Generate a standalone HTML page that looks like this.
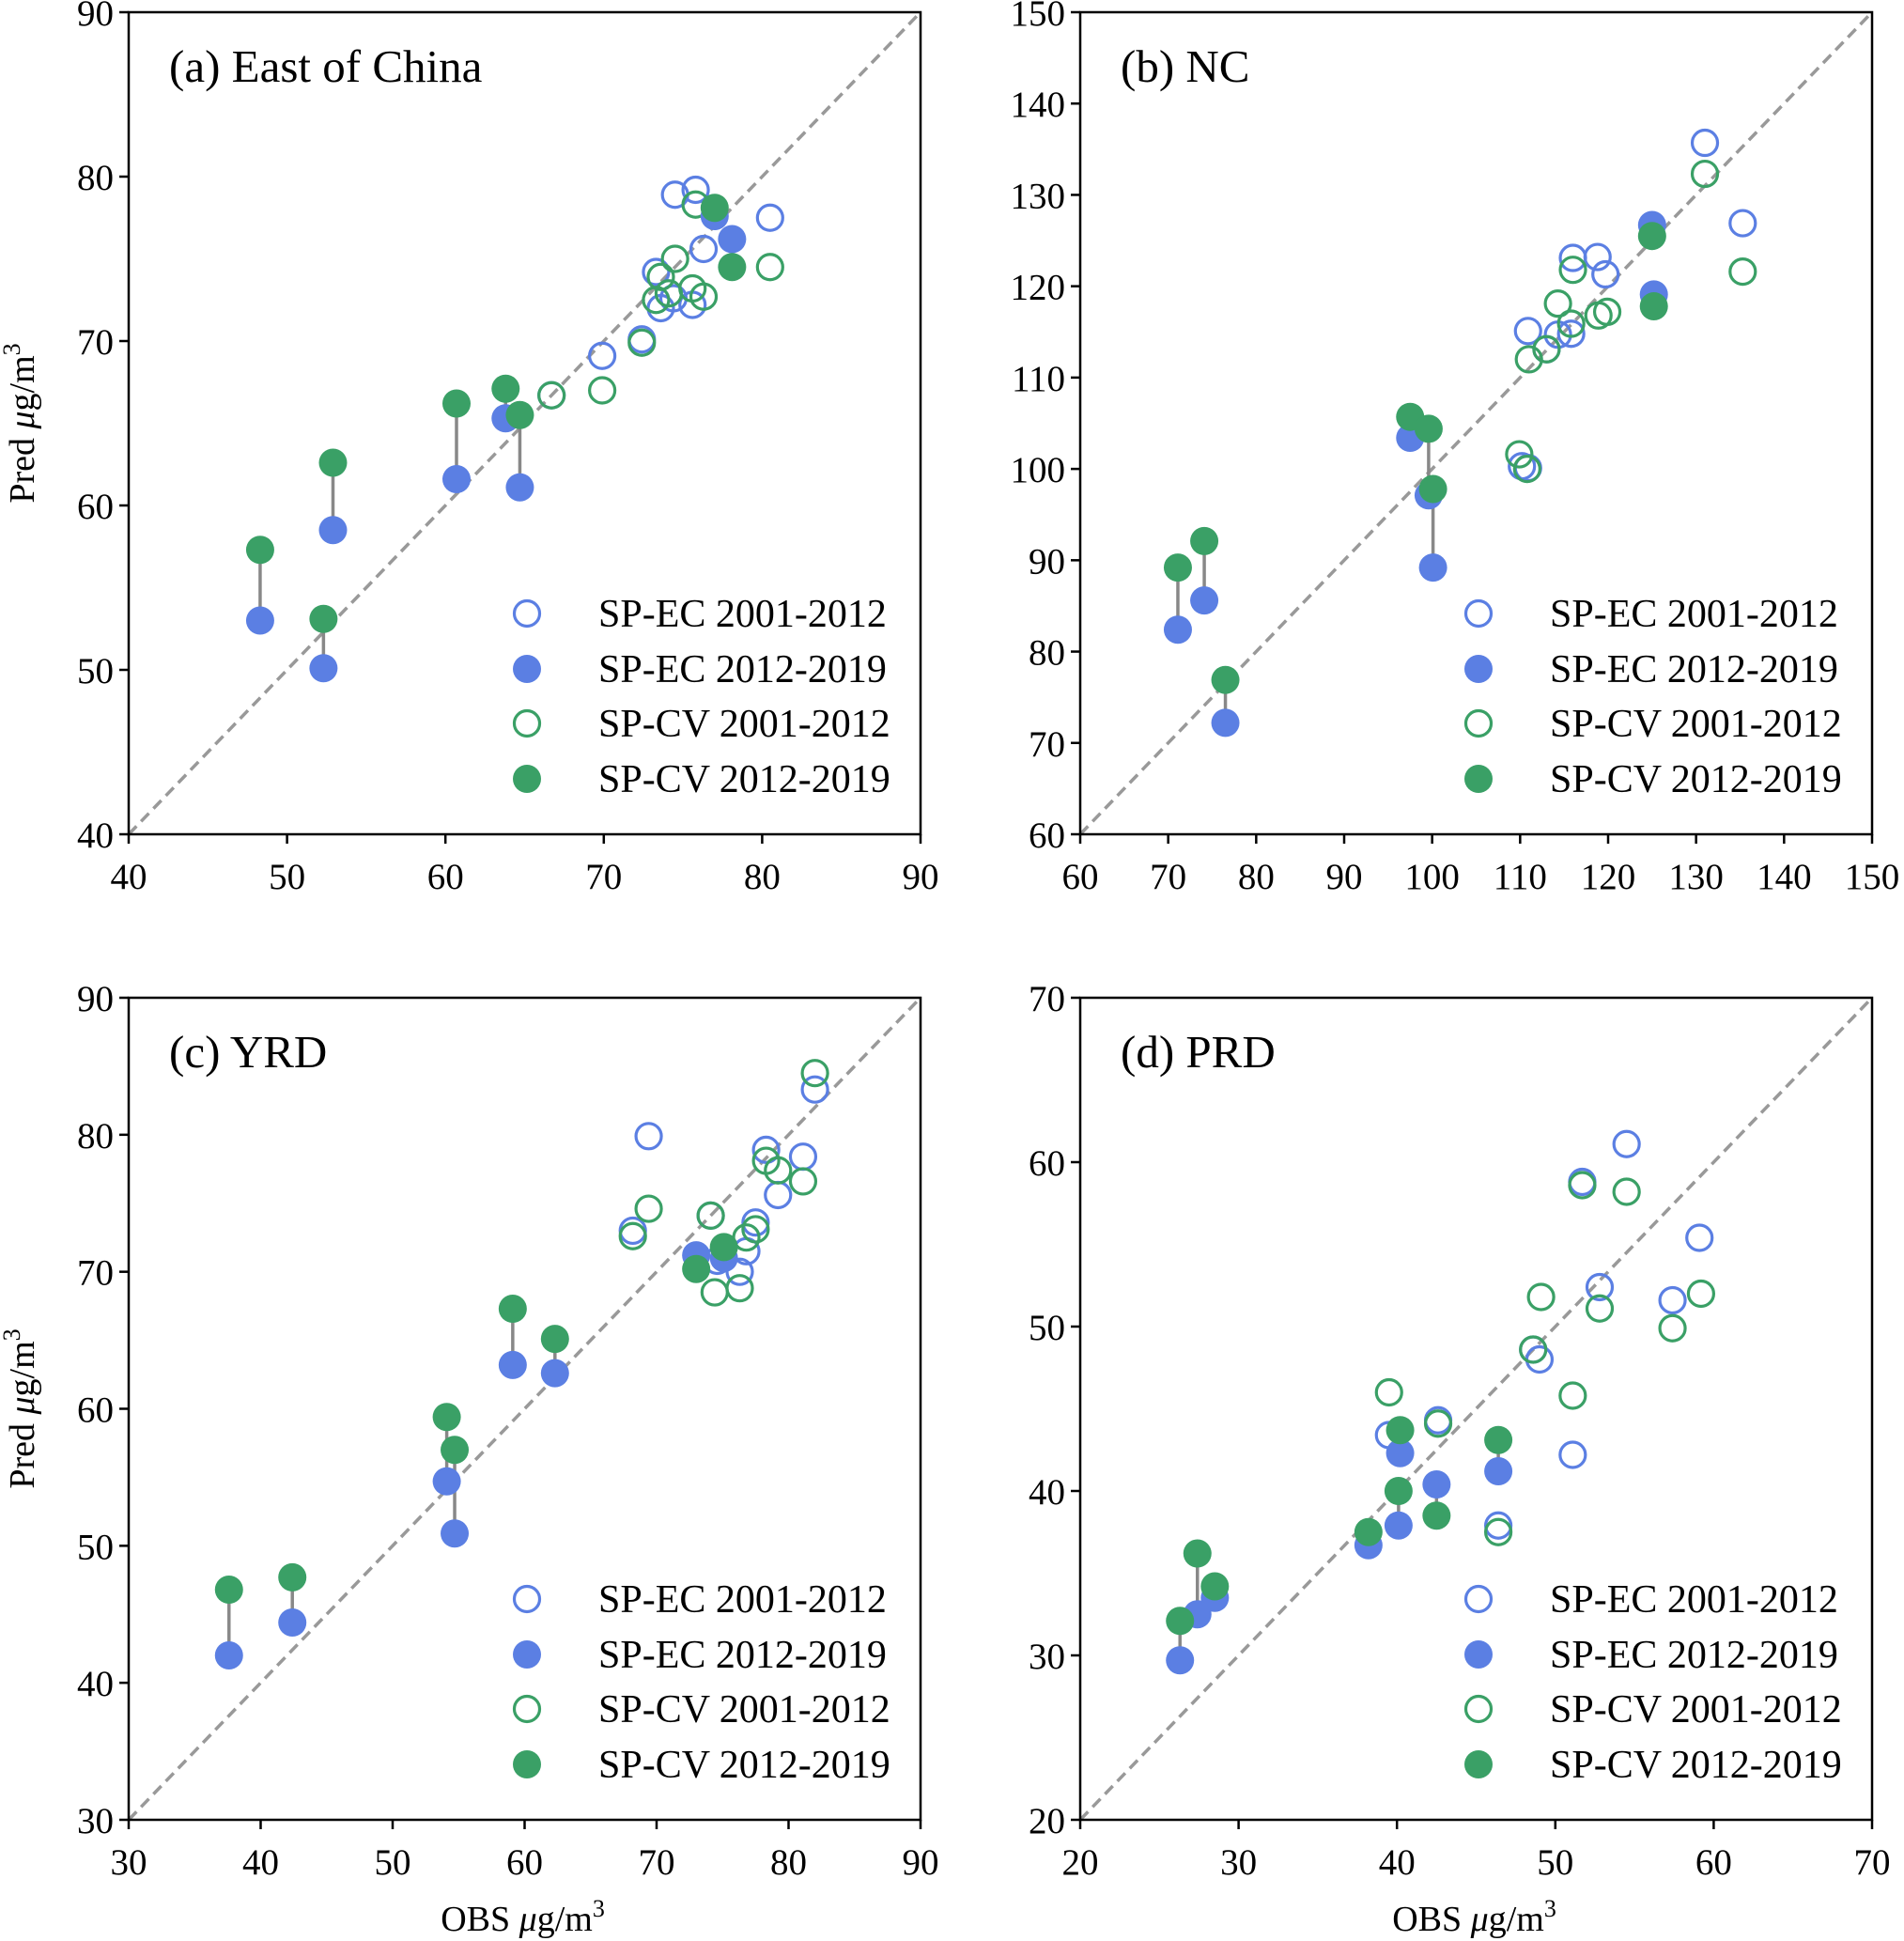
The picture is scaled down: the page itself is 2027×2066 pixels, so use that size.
<!DOCTYPE html>
<html><head><meta charset="utf-8"><style>
body{margin:0;background:#fff;}
svg{display:block;font-family:"Liberation Serif",serif;}
</style></head><body>
<svg id="fig" width="2027" height="2066" viewBox="0 0 2027 2066" xmlns="http://www.w3.org/2000/svg"></svg>
<script>
// Panel A data
const aPairX=[48.3,52.3,52.9,60.7,63.8,64.7,77.0,78.1];
const aPairEC=[53.0,50.1,58.5,61.6,65.3,61.1,77.6,76.2];
const aPairCV=[57.3,53.1,62.6,66.2,67.1,65.5,78.1,74.5];
const aOpenECx=[66.7,69.9,72.4,73.3,73.6,74.5,75.6,75.8,76.3,80.5,74.4];
const aOpenECy=[66.7,69.1,70.1,74.2,72.0,78.9,72.2,79.2,75.6,77.5,72.6];
const aOpenCVx=[66.7,69.9,72.4,73.3,73.6,74.1,74.5,75.6,75.8,76.3,80.5];
const aOpenCVy=[66.7,67.0,69.9,72.5,73.9,72.9,75.0,73.2,78.3,72.7,74.5];
const aTicks=[40,50,60,70,80,90];
// Panel B data
const bPairX=[71.1,74.1,76.5,97.5,99.6,100.1,125.0,125.2];
const bPairEC=[82.4,85.6,72.2,103.4,97.1,89.2,126.7,119.1];
const bPairCV=[89.2,92.1,76.9,105.7,104.4,97.8,125.5,117.8];
const bOpenECx=[110.9,110.2,110.9,114.3,115.8,116.0,118.8,119.7,131.0,135.3,113.0];
const bOpenECy=[115.1,100.3,100.1,114.7,114.8,123.1,123.2,121.3,135.7,126.9,113.1];
const bOpenCVx=[109.9,110.8,111.0,113.0,114.3,115.8,116.0,118.9,119.9,131.0,135.3];
const bOpenCVy=[101.6,100.0,112.0,113.1,118.1,115.9,121.8,116.8,117.2,132.3,121.6];
const bTicks=[60,70,80,90,100,110,120,130,140,150];
// Panel C data
const cPairX=[37.6,42.4,54.1,54.7,59.1,62.3,73.0,75.1];
const cPairEC=[42.0,44.4,54.7,50.9,63.2,62.6,71.2,71.0];
const cPairCV=[46.8,47.7,59.4,57.0,67.3,65.1,70.2,71.8];
const cOpenECx=[68.2,69.4,74.1,74.6,76.3,76.8,77.5,78.3,79.2,81.1,82.0];
const cOpenECy=[73.0,79.9,74.1,70.8,70.0,71.5,73.6,78.9,75.6,78.4,83.3];
const cOpenCVx=[68.2,69.4,74.1,74.4,76.3,76.8,77.5,78.3,79.2,81.1,82.0];
const cOpenCVy=[72.6,74.6,74.1,68.5,68.8,72.5,73.1,78.1,77.4,76.6,84.5];
const cTicks=[30,40,50,60,70,80,90];
// Panel D data
const dPairX=[26.3,27.4,28.5,38.2,40.1,40.2,42.5,46.4];
const dPairEC=[29.7,32.5,33.5,36.7,37.9,42.3,40.4,41.2];
const dPairCV=[32.1,36.2,34.2,37.5,40.0,43.7,38.5,43.1];
const dOpenECx=[39.5,42.6,46.4,48.6,49.0,51.1,51.7,52.8,54.5,57.4,59.1];
const dOpenECy=[43.4,44.3,37.9,48.6,48.0,42.2,58.8,52.4,61.1,51.6,55.4];
const dOpenCVx=[39.5,42.6,46.4,48.6,49.1,51.1,51.7,52.8,54.5,57.4,59.2];
const dOpenCVy=[46.0,44.1,37.5,48.6,51.8,45.8,58.6,51.1,58.2,49.9,52.0];
const dTicks=[20,30,40,50,60,70];
const legendLabels=["SP-EC 2001-2012","SP-EC 2012-2019","SP-CV 2001-2012","SP-CV 2012-2019"];

const NS="http://www.w3.org/2000/svg";
const svg=document.getElementById('fig');
const BLUE="#5b7fe3", GREEN="#3aa066";
function mk(tag,attrs,parent){const e=document.createElementNS(NS,tag);for(const k in attrs)e.setAttribute(k,attrs[k]);parent.appendChild(e);return e;}

function panel(id,L,T,title,pX,pEC,pCV,oEx,oEy,oCx,oCy,ticks,showX,letter){
  const W=843,H=875,min=ticks[0],max=ticks[ticks.length-1];
  const sx=v=>L+(v-min)/(max-min)*W;
  const sy=v=>T+H-(v-min)/(max-min)*H;
  const g=mk('g',{},svg);
  
  
  const d=mk('line',{x1:sx(min),y1:sy(min),x2:sx(max),y2:sy(max),stroke:'#999',"stroke-width":3.5,"stroke-dasharray":"12,7"},g);
  
  
  for(let i=0;i<pX.length;i++){
    const l=mk('line',{x1:sx(pX[i]),y1:sy(pEC[i]),x2:sx(pX[i]),y2:sy(pCV[i]),stroke:'#888',"stroke-width":3.5},g);
    
    
  }
  const R=15;
  for(let i=0;i<oEx.length;i++){
    const c=mk('circle',{cx:sx(oEx[i]),cy:sy(oEy[i]),r:R-1.5,fill:'none',stroke:BLUE,"stroke-width":3.2},g);
    
    
  }
  for(let i=0;i<oCx.length;i++){
    const c=mk('circle',{cx:sx(oCx[i]),cy:sy(oCy[i]),r:R-1.5,fill:'none',stroke:GREEN,"stroke-width":3.2},g);
    
    
  }
  for(let i=0;i<pX.length;i++){
    const c=mk('circle',{cx:sx(pX[i]),cy:sy(pEC[i]),r:R,fill:BLUE},g);
    
    
  }
  for(let i=0;i<pX.length;i++){
    const c=mk('circle',{cx:sx(pX[i]),cy:sy(pCV[i]),r:R,fill:GREEN},g);
    
    
  }
  const fr=mk('rect',{x:L,y:T,width:W,height:H,fill:'none',stroke:'#000',"stroke-width":2.5},g);
  
  
  ticks.forEach(t=>{
    mk('line',{x1:sx(t),y1:T+H,x2:sx(t),y2:T+H+10,stroke:'#000',"stroke-width":2.5},g);
    mk('line',{x1:L-10,y1:sy(t),x2:L,y2:sy(t),stroke:'#000',"stroke-width":2.5},g);
    const xt=mk('text',{x:sx(t),y:T+H+58,"font-size":39,"text-anchor":"middle"},g);
    xt.textContent=t;
    
    
    const yt=mk('text',{x:L-16,y:sy(t)+14,"font-size":39,"text-anchor":"end"},g);
    yt.textContent=t;
    
    
  });
  const tt=mk('text',{x:L+43,y:T+74,"font-size":49},g);
  tt.textContent=title;
  
  
  const rows=[640,699,757,816];
  legendLabels.forEach((lab,i)=>{
    const col=i<2?BLUE:GREEN, filled=i%2==1;
    const m=mk('circle',{cx:L+424,cy:T+rows[i],r:filled?R:R-1.5,fill:filled?col:'none',stroke:filled?'none':col,"stroke-width":3.2},g);
    
    
    const t=mk('text',{x:L+500,y:T+rows[i]+14,"font-size":42},g);
    t.textContent=lab;
    
    
  });
  if(L<500){
    const yl=mk('text',{x:0,y:0,"font-size":38,"text-anchor":"middle",transform:`translate(36,${T+H/2}) rotate(-90)`},g);
    yl.innerHTML='Pred <tspan font-style="italic">μ</tspan>g/m<tspan font-size="26" dy="-15">3</tspan>';
    
    
  }
  if(showX){
    const xl=mk('text',{x:L+W/2-2,y:2055,"font-size":38,"text-anchor":"middle"},g);
    xl.innerHTML='OBS <tspan font-style="italic">μ</tspan>g/m<tspan font-size="26" dy="-15">3</tspan>';
    
    
  }
}
panel('a',137,13,'(a) East of China',aPairX,aPairEC,aPairCV,aOpenECx,aOpenECy,aOpenCVx,aOpenCVy,aTicks,false,'a');
panel('b',1150,13,'(b) NC',bPairX,bPairEC,bPairCV,bOpenECx,bOpenECy,bOpenCVx,bOpenCVy,bTicks,false,'b');
panel('c',137,1062,'(c) YRD',cPairX,cPairEC,cPairCV,cOpenECx,cOpenECy,cOpenCVx,cOpenCVy,cTicks,true,'c');
panel('d',1150,1062,'(d) PRD',dPairX,dPairEC,dPairCV,dOpenECx,dOpenECy,dOpenCVx,dOpenCVy,dTicks,true,'d');
</script>
</body></html>
